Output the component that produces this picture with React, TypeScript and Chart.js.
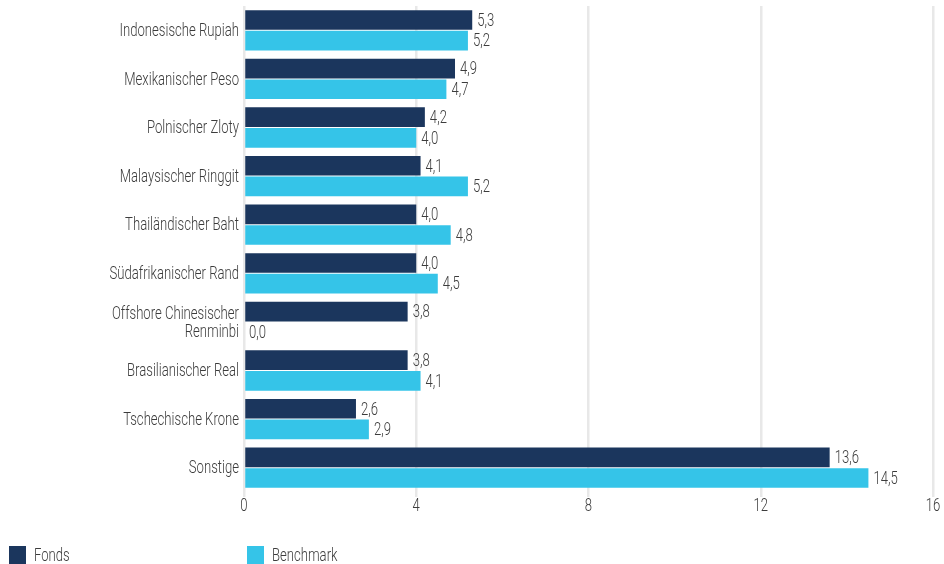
import React, { useEffect, useRef } from "react";
import { Chart, registerables } from "chart.js";

Chart.register(...registerables);

const categories: (string | string[])[] = [
  "Indonesische Rupiah",
  "Mexikanischer Peso",
  "Polnischer Zloty",
  "Malaysischer Ringgit",
  "Thailändischer Baht",
  "Südafrikanischer Rand",
  ["Offshore Chinesischer", "Renminbi"],
  "Brasilianischer Real",
  "Tschechische Krone",
  "Sonstige",
];

const fondsValues = [5.3, 4.9, 4.2, 4.1, 4.0, 4.0, 3.8, 3.8, 2.6, 13.6];
const benchmarkValues = [5.2, 4.7, 4.0, 5.2, 4.8, 4.5, 0.0, 4.1, 2.9, 14.5];

const xTicks = [0, 4, 8, 12, 16];

const seriesNames = ["Fonds", "Benchmark"];
const seriesColors = ["#1b365d", "#35c4e8"];

const FONT = "Roboto, 'DejaVu Sans', sans-serif";
const TEXT = "#3c3c3c";
const SX = 0.69;
const FS = 19;

function drawText(
  ctx: CanvasRenderingContext2D,
  text: string,
  x: number,
  y: number,
  align: CanvasTextAlign
) {
  ctx.save();
  ctx.font = `300 ${FS}px ${FONT}`;
  ctx.fillStyle = TEXT;
  ctx.textBaseline = "middle";
  ctx.textAlign = align;
  ctx.translate(x, y);
  ctx.scale(SX, 1);
  ctx.fillText(text, 0, 0);
  ctx.restore();
}

const customText = {
  id: "customText",
  afterDraw(chart: any) {
    const ctx = chart.ctx as CanvasRenderingContext2D;
    const xs = chart.scales.x;
    const ys = chart.scales.y;
    // value labels
    chart.data.datasets.forEach((ds: any, di: number) => {
      const meta = chart.getDatasetMeta(di);
      meta.data.forEach((el: any, i: number) => {
        const v = ds.data[i] as number;
        const txt = v.toFixed(1).replace(".", ",");
        drawText(ctx, txt, el.x + 5, el.y + 1, "left");
      });
    });
    // category labels
    categories.forEach((c, i) => {
      const y = ys.getPixelForValue(i);
      const lines = Array.isArray(c) ? c : [c];
      const lh = 18;
      lines.forEach((ln, k) => {
        const yy = y + (k - (lines.length - 1) / 2) * lh + 1;
        drawText(ctx, ln, 239, yy, "right");
      });
    });
    // x tick labels
    xTicks.forEach((t) => {
      drawText(ctx, String(t), xs.getPixelForValue(t), 506, "center");
    });
    // legend
    const lx = [9, 247];
    seriesNames.forEach((n, i) => {
      ctx.save();
      ctx.fillStyle = seriesColors[i];
      ctx.fillRect(lx[i], 546, 17, 18);
      ctx.restore();
      drawText(ctx, n, lx[i] + 25, 556, "left");
    });
  },
};

export default function App() {
  const ref = useRef<HTMLCanvasElement>(null);

  useEffect(() => {
    if (!ref.current) return;
    const chart = new Chart(ref.current, {
      type: "bar",
      data: {
        labels: categories.map((c) => (Array.isArray(c) ? c.join(" ") : c)),
        datasets: [
          {
            label: seriesNames[0],
            data: fondsValues,
            backgroundColor: seriesColors[0],
            categoryPercentage: 0.85,
            barPercentage: 0.95,
          },
          {
            label: seriesNames[1],
            data: benchmarkValues,
            backgroundColor: seriesColors[1],
            categoryPercentage: 0.85,
            barPercentage: 0.95,
          },
        ],
      },
      options: {
        indexAxis: "y",
        animation: false,
        responsive: false,
        maintainAspectRatio: false,
        layout: { padding: { top: 6, right: 11, left: 0, bottom: 0 } },
        plugins: {
          legend: { display: false },
          tooltip: { enabled: false },
        },
        scales: {
          x: {
            min: 0,
            max: 16,
            afterBuildTicks: (scale: any) => {
              scale.ticks = xTicks.map((v) => ({ value: v }));
            },
            afterFit: (scale: any) => {
              scale.height = 72;
            },
            grid: {
              color: "#e8e8e8",
              lineWidth: 2.5,
              drawTicks: true,
              tickLength: 5,
            },
            border: { display: false },
            ticks: { display: false },
          },
          y: {
            afterFit: (scale: any) => {
              scale.width = 244;
            },
            grid: { display: false },
            border: { display: false },
            ticks: { display: false },
          },
        },
      },
      plugins: [customText],
    });
    return () => chart.destroy();
  }, []);

  return (
    <div
      style={{
        position: "absolute",
        left: 0,
        top: 0,
        width: 944,
        height: 564,
        background: "#fff",
      }}
    >
      <canvas ref={ref} width={944} height={564} style={{ display: "block" }} />
    </div>
  );
}
